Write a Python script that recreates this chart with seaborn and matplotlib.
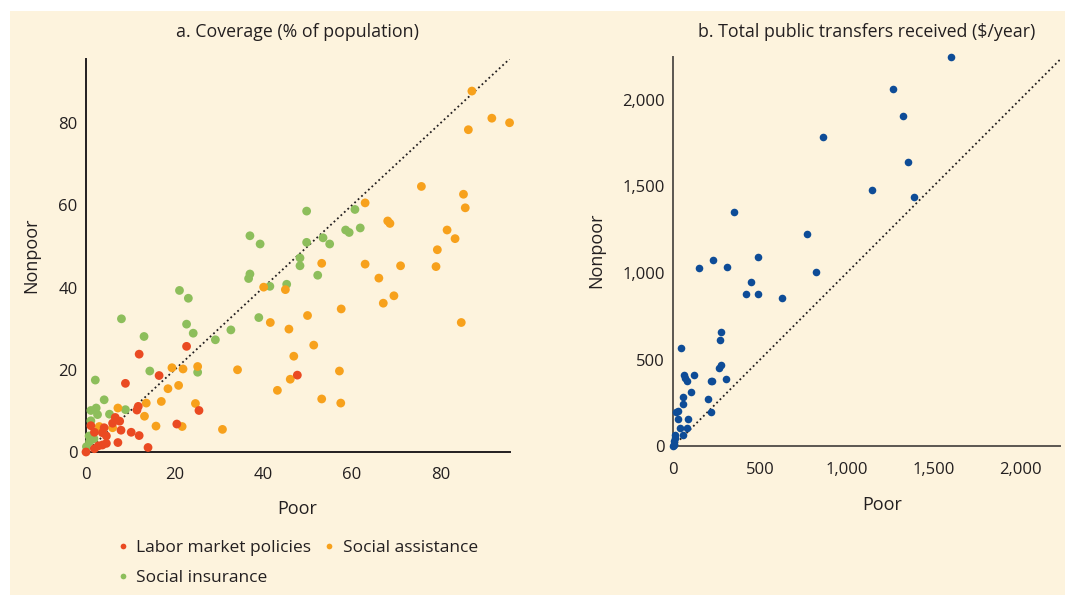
import numpy as np
import pandas as pd
import matplotlib
matplotlib.use("Agg")
import matplotlib.pyplot as plt
import seaborn as sns
from matplotlib.patches import Rectangle
from matplotlib.ticker import FuncFormatter

# panel a: coverage (% of population), (poor, nonpoor)
labor_poor = [22.7, 12.0, 47.7, 16.5, 8.9, 11.8, 11.5, 25.5, 20.5, 10.2, 12.0, 14.0, 7.9, 7.2,
              6.6, 7.6, 6.0, 1.1, 1.9, 4.1, 3.7, 4.6, 4.6, 3.7, 2.8, 1.9, 0.0]
labor_nonpoor = [25.7, 23.8, 18.7, 18.6, 16.7, 11.1, 10.2, 10.1, 6.8, 4.8, 4.0, 1.1, 5.3, 2.3,
                 8.4, 7.5, 7.0, 6.4, 4.8, 5.9, 4.7, 3.9, 2.1, 1.7, 1.5, 0.8, 0.0]

assist_poor = [87.1, 91.6, 95.6, 86.3, 75.7, 85.2, 85.6, 63.0, 68.1, 68.6, 81.5, 83.3, 79.3, 53.2,
               63.0, 71.0, 79.0, 66.1, 69.5, 67.1, 57.6, 50.0, 41.6, 45.8, 84.7, 40.1, 45.0, 51.4,
               46.9, 57.2, 46.1, 43.2, 53.2, 57.5, 34.2, 30.8, 19.4, 21.9, 25.2, 20.9, 18.5, 17.0,
               24.7, 13.6, 13.2, 7.2, 15.8, 21.7, 3.0, 6.0]
assist_nonpoor = [87.8, 81.2, 80.1, 78.4, 64.6, 62.7, 59.4, 60.6, 56.2, 55.6, 54.0, 51.9, 49.2, 45.9,
                  45.7, 45.3, 45.1, 42.3, 38.0, 36.2, 34.8, 33.2, 31.5, 29.9, 31.5, 40.1, 39.5, 26.0,
                  23.3, 19.7, 17.7, 15.0, 12.9, 11.9, 20.0, 5.5, 20.5, 20.2, 20.8, 16.2, 15.4, 12.3,
                  11.8, 11.9, 8.7, 10.7, 6.3, 6.2, 6.2, 5.9]

insur_poor = [37.0, 39.3, 49.8, 60.7, 58.6, 59.4, 61.9, 49.8, 53.5, 55.0, 48.3, 48.3, 37.0, 36.7,
              41.5, 45.3, 52.3, 21.1, 23.1, 8.0, 39.0, 32.7, 29.2, 22.7, 24.2, 13.1, 14.4, 25.2,
              2.1, 4.1, 8.9, 1.1, 2.3, 2.6, 5.3, 1.1, 0.7, 0.8, 0.1, 1.8]
insur_nonpoor = [52.6, 50.6, 58.6, 59.0, 54.0, 53.4, 54.5, 51.0, 52.1, 50.6, 47.2, 45.3, 43.3, 42.2,
                 40.3, 40.8, 43.0, 39.3, 37.4, 32.4, 32.7, 29.7, 27.3, 31.1, 28.9, 28.1, 19.7, 19.4,
                 17.5, 12.7, 10.3, 10.1, 10.7, 9.1, 9.2, 7.6, 3.9, 2.5, 1.3, 3.2]

# panel b: total public transfers received ($/year)
transfer_poor = [1603, 1269, 1325, 863, 1352, 1148, 1390, 352, 771, 488, 229, 146, 311, 823, 450,
                 419, 487, 625, 275, 268, 46, 275, 266, 117, 64, 69, 77, 219, 225, 302, 100, 58,
                 200, 54, 17, 29, 219, 29, 85, 37, 81, 56, 10, 8, 5, 3, 0, 2]
transfer_nonpoor = [2247, 2062, 1905, 1784, 1638, 1480, 1438, 1353, 1226, 1093, 1074, 1026, 1034,
                    1005, 949, 876, 876, 855, 659, 615, 565, 469, 450, 409, 409, 394, 378, 378, 378,
                    388, 311, 286, 273, 244, 200, 205, 200, 159, 159, 104, 104, 63, 65, 45, 30, 15,
                    0, 5]

programs = ["Labor market policies", "Social assistance", "Social insurance"]

CREAM = "#fdf3dd"
INK = "#231f20"
palette = {"Labor market policies": "#ea4a22",
           "Social assistance": "#f7a11c",
           "Social insurance": "#8dbe5b"}

cov = pd.concat([
    pd.DataFrame({"Poor": insur_poor, "Nonpoor": insur_nonpoor, "Program": programs[2]}),
    pd.DataFrame({"Poor": assist_poor, "Nonpoor": assist_nonpoor, "Program": programs[1]}),
    pd.DataFrame({"Poor": labor_poor, "Nonpoor": labor_nonpoor, "Program": programs[0]}),
], ignore_index=True)
transfers = pd.DataFrame({"Poor": transfer_poor, "Nonpoor": transfer_nonpoor})

sns.set_theme(style="white")
plt.rcParams["font.family"] = ["Open Sans", "DejaVu Sans"]
plt.rcParams["text.color"] = INK
plt.rcParams["axes.labelcolor"] = INK
plt.rcParams["xtick.color"] = INK
plt.rcParams["ytick.color"] = INK

fig = plt.figure(figsize=(10.65, 5.95), dpi=100)
fig.patch.set_facecolor("white")
fig.patches.append(Rectangle((10 / 1065, 0), 1, 1 - 11 / 595, transform=fig.transFigure,
                             facecolor=CREAM, edgecolor="none", zorder=-10))

ax1 = fig.add_axes([86 / 1065, 1 - 452 / 595, 424 / 1065, 393 / 595])
ax2 = fig.add_axes([673.3 / 1065, 1 - 446.3 / 595, 386.7 / 1065, 389.6 / 595])

# Panel a
sns.scatterplot(data=cov, x="Poor", y="Nonpoor", hue="Program",
                hue_order=[programs[0], programs[2], programs[1]], palette=palette,
                s=40, linewidth=0, ax=ax1, clip_on=False, zorder=3)
ax1.plot([0, 95.7], [0, 95.7], linestyle=(0, (1, 1.6)), color=INK, linewidth=1.3, zorder=2)
ax1.set_xlim(0, 95.7)
ax1.set_ylim(0, 95.6)
ax1.set_xticks([0, 20, 40, 60, 80])
ax1.set_yticks([0, 20, 40, 60, 80])
ax1.set_title("a. Coverage (% of population)", fontsize=12.8, pad=16, color=INK)

# Panel b
sns.scatterplot(data=transfers, x="Poor", y="Nonpoor", color="#0e4c97", s=30, linewidth=0,
                ax=ax2, clip_on=False, zorder=3)
ax2.plot([0, 2230], [0, 2230], linestyle=(0, (1, 1.6)), color=INK, linewidth=1.3, zorder=2)
ax2.set_xlim(0, 2230)
ax2.set_ylim(0, 2247)
ax2.set_xticks([0, 500, 1000, 1500, 2000])
ax2.set_yticks([0, 500, 1000, 1500, 2000])
comma = FuncFormatter(lambda v, pos: f"{int(v):,}")
ax2.xaxis.set_major_formatter(comma)
ax2.yaxis.set_major_formatter(comma)
ax2.set_title("b. Total public transfers received ($/year)", fontsize=12.8, pad=14, color=INK)

for ax, spine_col in [(ax1, INK), (ax2, "#5b5651")]:
    ax.set_facecolor("none")
    sns.despine(ax=ax)
    for side in ["left", "bottom"]:
        ax.spines[side].set_color(spine_col)
        ax.spines[side].set_linewidth(1.4)
    ax.tick_params(direction="in", length=5, width=1.2, color=spine_col, labelsize=12)
    ax.tick_params(axis="x", pad=11)
    ax.tick_params(axis="y", pad=6)
    ax.set_xlabel("Poor", fontsize=13)
    ax.set_ylabel("Nonpoor", fontsize=13)

ax1.xaxis.set_label_coords(0.498, -0.122)
ax1.yaxis.set_label_coords(-0.108, 0.50)
ax2.xaxis.set_label_coords(0.54, -0.128)
ax2.yaxis.set_label_coords(-0.177, 0.504)

sns.move_legend(ax1, "upper left", bbox_to_anchor=(100 / 1065, 1 - 524 / 595),
                bbox_transform=fig.transFigure, ncol=2, frameon=False, title=None,
                fontsize=12.5, markerscale=0.65, handlelength=0.8, handletextpad=0.4,
                columnspacing=0.6, labelspacing=0.8)

fig.savefig("out.png", dpi=100, facecolor=fig.get_facecolor())
